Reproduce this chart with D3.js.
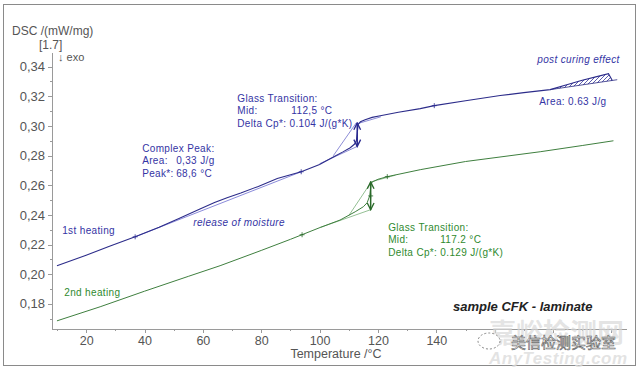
<!DOCTYPE html>
<html>
<head>
<meta charset="utf-8">
<script src="https://cdn.jsdelivr.net/npm/d3@7"></script>
<style>
	body { margin: 0; background: #fff; }
	text { font-family: "Liberation Sans", Arial, sans-serif; }
	.axis path, .axis line { stroke: #9a9a9a; shape-rendering: crispEdges; }
	.axis text { fill: #555; font-size: 13px; }
	.blue { fill: #3434a4; font-size: 10px; letter-spacing: 0.35px; }
	.green { fill: #2f8a2f; font-size: 10px; letter-spacing: 0.35px; }
</style>
</head>
<body>
<svg id="chart" width="640" height="371"></svg>
<script>
// tick values
var xMajor = [20, 40, 60, 80, 100, 120, 140, 160, 180, 200];
var xMinor = [10, 30, 50, 70, 90, 110, 130, 150, 170, 190];
var yMajor = [0.18, 0.20, 0.22, 0.24, 0.26, 0.28, 0.30, 0.32, 0.34];
var yMinor = [0.17, 0.19, 0.21, 0.23, 0.25, 0.27, 0.29, 0.31, 0.33];

// 1st heating [temperature, DSC]
var heating1 = [
	[10, 0.2057], [20, 0.2128], [28, 0.2188], [36.8, 0.2252], [45, 0.2317], [52, 0.2378],
	[59, 0.2440], [64, 0.2484], [68.3, 0.2516], [73, 0.2548], [79, 0.2592], [85.5, 0.2645],
	[93.7, 0.2691], [100, 0.2740], [104.7, 0.2790], [108, 0.2825], [110.5, 0.2853], [112, 0.2878],
	[112.6, 0.2900], [112.9, 0.2950], [113.2, 0.3010], [114, 0.3028], [115.6, 0.3042], [118, 0.3058],
	[120.8, 0.3069], [127, 0.3093], [134.5, 0.3117], [139.3, 0.3137], [150, 0.3170], [161.9, 0.3205],
	[170, 0.3225], [179, 0.3245], [185, 0.3280], [190, 0.3308], [195, 0.3333], [199, 0.3353], [200.3, 0.3306]
];
// 2nd heating
var heating2 = [
	[10, 0.1685], [24.8, 0.1780], [40, 0.1885], [55, 0.1985], [65.9, 0.2057], [80, 0.2160],
	[90, 0.2235], [100.2, 0.2315], [107, 0.2365], [112.2, 0.2421], [115, 0.2455], [116.3, 0.2482],
	[117.2, 0.2530], [117.6, 0.2600], [118, 0.2622], [120, 0.2640], [123.2, 0.2658], [134.5, 0.2705],
	[150, 0.2760], [175.6, 0.2826], [190, 0.2868], [200.7, 0.2900]
];

// evaluation constructions
var peakBase = [[36.8, 0.2252], [93.7, 0.2691]];
var postBase = [[179, 0.3245], [202, 0.3312]];
var blueTgLines = [
	[[100, 0.2745], [112.9, 0.2862]],
	[[104.7, 0.2799], [112.6, 0.3022]],
	[[112.9, 0.3015], [121, 0.3062]]
];
var greenTgLines = [
	[[100.2, 0.2315], [117.5, 0.2435]],
	[[110, 0.2395], [117.8, 0.2625]],
	[[117.5, 0.2622], [126, 0.2668]]
];
var blueStep = [[112.9, 0.2862], [112.9, 0.3020]];
var greenStep = [[117.5, 0.2435], [117.5, 0.2622]];
var blueMarks = [[36.8, 0.2252], [93.7, 0.2691], [139.3, 0.3137]];
var greenMarks = [[94, 0.2266], [117.5, 0.2528], [123.2, 0.2658]];

// annotation texts, anchored in data units
var blueNotes = [
	{ t: 39.2, v: 0.2826, lines: [["Complex Peak:", ""], ["Area:", "0,33 J/g"], ["Peak*:", "68,6 °C"]], off: 34 },
	{ t: 71.8, v: 0.3164, lines: [["Glass Transition:", ""], ["Mid:", "112,5 °C"], ["Delta Cp*: 0.104 J/(g*K)", ""]], off: 54 },
	{ t: 175.3, v: 0.3144, lines: [["Area:  0.63 J/g", ""]], off: 0 },
	{ t: 11.8, v: 0.2273, lines: [["1st heating", ""]], off: 0 }
];
var blueItalic = [
	{ t: 56.7, v: 0.2327, text: "release of moisture" },
	{ t: 174.6, v: 0.3427, text: "post curing effect" }
];
var greenNotes = [
	{ t: 123.5, v: 0.2293, lines: [["Glass Transition:", ""], ["Mid:", "117.2 °C"], ["Delta Cp*: 0.129 J/(g*K)", ""]], off: 52 },
	{ t: 12.5, v: 0.1854, lines: [["2nd heating", ""]], off: 0 }
];

buildChart();

function buildChart() {
	var svg = d3.select("#chart");

	var x = d3.scaleLinear().domain([8.3, 205]).range([52, 626]);
	var y = d3.scaleLinear().domain([0.163, 0.3499]).range([329, 52]);

	svg.append("rect")
		.attr("x", 3.5).attr("y", 4.5)
		.attr("width", 632).attr("height", 361)
		.attr("fill", "none").attr("stroke", "#8a8a8a");

	var defs = svg.append("defs");
	defs.append("pattern")
		.attr("id", "hatch")
		.attr("patternUnits", "userSpaceOnUse")
		.attr("width", 4).attr("height", 4)
		.append("path")
			.attr("d", "M-1,1 l2,-2 M0,4 l4,-4 M3,5 l2,-2")
			.attr("stroke", "#34349a").attr("stroke-width", 0.8);

	["blue", "green"].forEach(function(c) {
		defs.append("marker")
			.attr("id", "arr-" + c)
			.attr("viewBox", "0 0 8 8")
			.attr("refX", 7).attr("refY", 4)
			.attr("markerWidth", 6).attr("markerHeight", 6)
			.attr("orient", "auto-start-reverse")
			.append("path")
				.attr("d", "M1,1 L7,4 L1,7")
				.attr("fill", "none")
				.attr("stroke", c == "blue" ? "#2a2a90" : "#2a6a2a")
				.attr("stroke-width", 1.2);
	});

	// axes
	svg.append("g").attr("class", "axis")
		.attr("transform", "translate(0,329)")
		.call(d3.axisBottom(x).tickValues(xMinor).tickSize(2).tickFormat(""))
		.call(function(g) { g.select(".domain").remove(); });
	svg.append("g").attr("class", "axis")
		.attr("transform", "translate(0,329)")
		.call(d3.axisBottom(x).tickValues(xMajor).tickSizeInner(4).tickSizeOuter(0)
			.tickFormat(function(d) { return d > 150 ? "" : d; }))
		.call(function(g) { g.selectAll("text").style("font-size", "12.5px"); });

	svg.append("g").attr("class", "axis")
		.attr("transform", "translate(52,0)")
		.call(d3.axisLeft(y).tickValues(yMinor).tickSize(2).tickFormat(""))
		.call(function(g) { g.select(".domain").remove(); });
	svg.append("g").attr("class", "axis")
		.attr("transform", "translate(52,0)")
		.call(d3.axisLeft(y).tickValues(yMajor).tickSizeInner(4).tickSizeOuter(0)
			.tickFormat(function(d) { return d3.format(".2f")(d).replace(".", ","); }))
		.call(function(g) { g.selectAll("text").attr("x", -7); });

	svg.append("text").attr("x", 12).attr("y", 35)
		.attr("fill", "#555").style("font-size", "12px").text("DSC /(mW/mg)");
	svg.append("text").attr("x", 39).attr("y", 49)
		.attr("fill", "#555").style("font-size", "12px").text("[1.7]");
	svg.append("text").attr("x", 58).attr("y", 61)
		.attr("fill", "#555").style("font-size", "11px").text("↓ exo");
	svg.append("text").attr("x", (x(8.3) + x(205)) / 2 - 3).attr("y", 358)
		.attr("text-anchor", "middle")
		.attr("fill", "#555").style("font-size", "12.5px").text("Temperature /°C");

	// post curing hatch
	var base = d3.scaleLinear().domain(postBase.map(function(d) { return d[0]; }))
		.range(postBase.map(function(d) { return d[1]; }));
	var post = heating1.filter(function(d) { return d[0] >= 179; });
	svg.append("path")
		.datum(post)
		.attr("d", d3.area()
			.x(function(d) { return x(d[0]); })
			.y0(function(d) { return y(base(d[0])); })
			.y1(function(d) { return y(d[1]); }))
		.attr("fill", "url(#hatch)")
		.attr("stroke", "none");

	var line = d3.line()
		.x(function(d) { return x(d[0]); })
		.y(function(d) { return y(d[1]); });

	// construction lines
	var helpers = [
		{ pts: peakBase, c: "#6c6cd0" },
		{ pts: postBase, c: "#2a2a80" }
	];
	blueTgLines.forEach(function(p) { helpers.push({ pts: p, c: "#7070cc" }); });
	greenTgLines.forEach(function(p) { helpers.push({ pts: p, c: "#79b079" }); });
	svg.selectAll(".helper")
		.data(helpers)
		.enter().append("path")
			.attr("class", "helper")
			.attr("d", function(d) { return line(d.pts); })
			.attr("fill", "none")
			.attr("stroke", function(d) { return d.c; })
			.attr("stroke-width", 0.8);

	svg.append("path").datum(heating2)
		.attr("d", line)
		.attr("fill", "none").attr("stroke", "#3f7f3f").attr("stroke-width", 1);
	svg.append("path").datum(heating1)
		.attr("d", line)
		.attr("fill", "none").attr("stroke", "#2c2c8a").attr("stroke-width", 1.1);

	svg.append("path").datum(blueStep)
		.attr("d", line).attr("stroke", "#2a2a90").attr("stroke-width", 1.5)
		.attr("marker-start", "url(#arr-blue)").attr("marker-end", "url(#arr-blue)");
	svg.append("path").datum(greenStep)
		.attr("d", line).attr("stroke", "#2a6a2a").attr("stroke-width", 1.5)
		.attr("marker-start", "url(#arr-green)").attr("marker-end", "url(#arr-green)");

	svg.selectAll(".bmark")
		.data(blueMarks)
		.enter().append("path")
			.attr("class", "bmark")
			.attr("transform", function(d) { return "translate(" + x(d[0]) + "," + y(d[1]) + ")"; })
			.attr("fill", "none").attr("stroke", "#2a2a90").attr("stroke-width", 0.8)
			.attr("d", "M-2.5,0 H2.5 M0,-2.5 V2.5");
	svg.selectAll(".gmark")
		.data(greenMarks)
		.enter().append("path")
			.attr("class", "gmark")
			.attr("transform", function(d) { return "translate(" + x(d[0]) + "," + y(d[1]) + ")"; })
			.attr("fill", "none").attr("stroke", "#2a6a2a").attr("stroke-width", 0.8)
			.attr("d", "M-2.5,0 H2.5 M0,-2.5 V2.5");

	drawNotes(svg, blueNotes, "blue", x, y);
	drawNotes(svg, greenNotes, "green", x, y);

	svg.selectAll(".ital")
		.data(blueItalic)
		.enter().append("text")
			.attr("class", "blue ital")
			.attr("x", function(d) { return x(d.t); })
			.attr("y", function(d) { return y(d.v); })
			.style("font-style", "italic")
			.text(function(d) { return d.text; });

	svg.append("text").attr("x", 453).attr("y", 311)
		.attr("fill", "#222").style("font-size", "13px")
		.style("font-weight", "bold").style("font-style", "italic")
		.text("sample CFK - laminate");

	// watermark
	var wm = svg.append("g").attr("class", "watermark");
	wm.append("text").attr("x", 489).attr("y", 343)
		.attr("fill", "#d8d8d8").attr("fill-opacity", 0.7)
		.style("font-family", "'Noto Sans CJK SC'").style("font-size", "27px").style("font-weight", "bold")
		.text("嘉峪检测网");
	wm.append("text").attr("x", 489).attr("y", 364)
		.attr("fill", "#dcdcdc").attr("fill-opacity", 0.8)
		.style("font-size", "17px").style("font-weight", "bold").style("font-style", "italic")
		.style("letter-spacing", "0.5px")
		.text("AnyTesting.com");
	wm.append("ellipse").attr("cx", 489).attr("cy", 341).attr("rx", 11).attr("ry", 8)
		.attr("fill", "#fff").attr("stroke", "#888").attr("stroke-dasharray", "2,2");
	wm.append("text").attr("x", 511).attr("y", 348)
		.attr("fill", "#fff").attr("stroke", "#666").attr("stroke-width", 0.6)
		.style("font-family", "'Noto Sans CJK SC'").style("font-size", "15px")
		.text("美信检测实验室");
}

function drawNotes(svg, notes, cls, x, y) {
	notes.forEach(function(n) {
		n.lines.forEach(function(l, i) {
			svg.append("text")
				.attr("class", cls)
				.attr("x", x(n.t))
				.attr("y", y(n.v) + i * 12.5)
				.text(l[0]);
			if (l[1]) {
				svg.append("text")
					.attr("class", cls)
					.attr("x", x(n.t) + n.off)
					.attr("y", y(n.v) + i * 12.5)
					.text(l[1]);
			}
		});
	});
}
</script>
</body>
</html>
